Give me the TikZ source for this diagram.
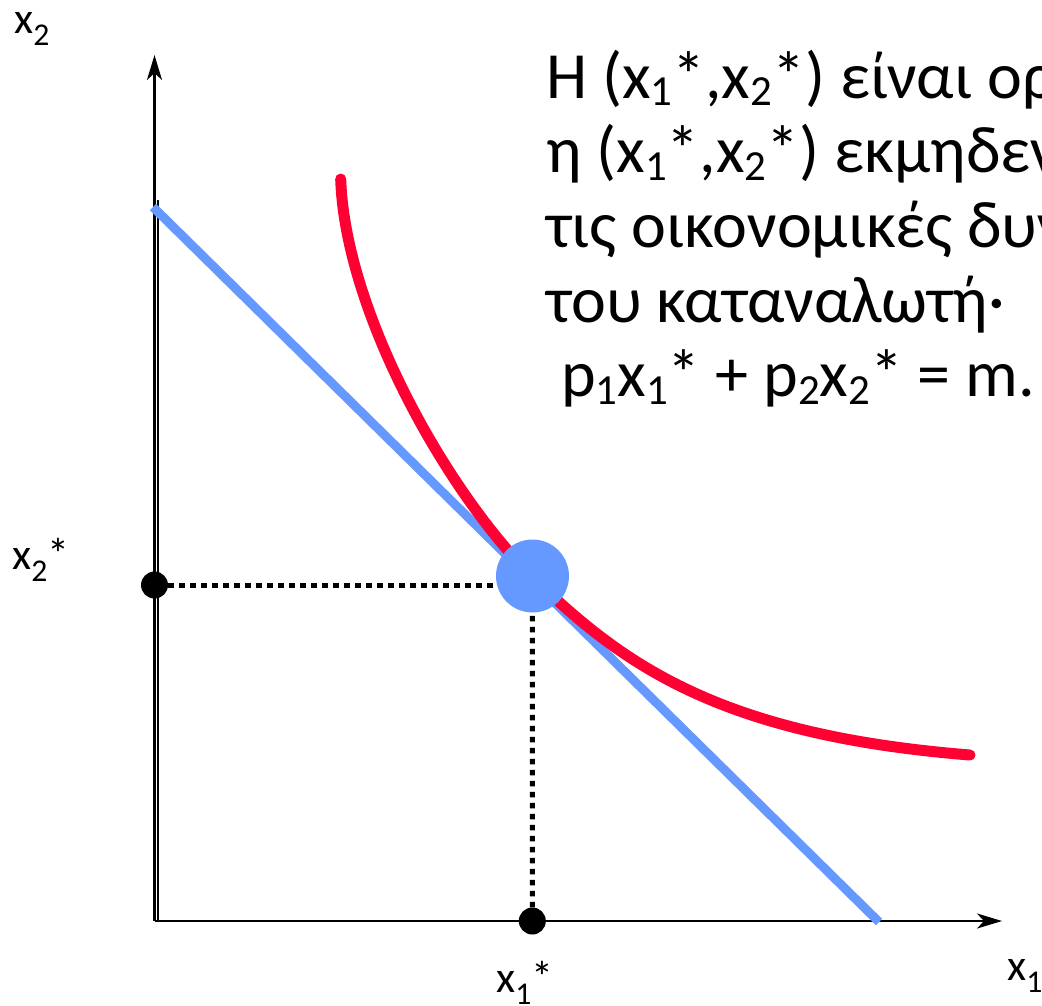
\documentclass[tikz,border=0pt]{standalone}
\usepackage{fontspec}
\setmainfont{Carlito}
\usepackage{graphicx}
\usetikzlibrary{arrows.meta, positioning}
\definecolor{budgetblue}{HTML}{6699FF}
\definecolor{curvered}{HTML}{FF0033}
\newcommand{\lo}[1]{\raisebox{-0.12em}{\scalebox{0.65}{#1}}}
\newcommand{\lbsub}[1]{\raisebox{-0.28em}{\scalebox{0.72}{#1}}}
\tikzstyle{axis} = [line width=2.4pt, -{Stealth[length=25pt, width=15pt, inset=7pt]}]
\tikzstyle{budget} = [line width=9pt, budgetblue]
\tikzstyle{indiff} = [line width=11pt, curvered, line cap=round]
\tikzstyle{guide} = [line width=5pt, dash pattern=on 5.5pt off 5.5pt]
\tikzstyle{dot} = [circle, fill=black, inner sep=0pt, minimum size=27pt]
\tikzstyle{bundle} = [circle, fill=budgetblue, inner sep=0pt, minimum size=73pt]
\tikzstyle{txt} = [anchor=base west, inner sep=0pt, font=\fontsize{66}{80}\selectfont]
\tikzstyle{lbl} = [anchor=base west, inner sep=0pt, font=\fontsize{44}{52}\selectfont]

\begin{document}
\begin{tikzpicture}[x=1pt, y=-1pt]
    \useasboundingbox (0,0) rectangle (1042,1005);
    \clip (0,0) rectangle (1042,1005);

    % Axes
    \coordinate (O) at (154.5,921);
    \coordinate (ytop) at (154.5,55);
    \coordinate (xend) at (1002,921);
    \coordinate (yin) at (158,200);
    \coordinate (Oin) at (158,921);
    \draw [axis] (O) -- (ytop);
    \draw [axis] (O) -- (xend);
    \draw [line width=2.4pt] (yin) -- (Oin);

    % Budget line
    \coordinate (bl) at (153,207);
    \coordinate (br) at (879,922);
    \draw [budget] (bl) -- (br);

    % Indifference curve
    \coordinate (ctop) at (340.7,179);
    \coordinate (opt) at (532.5,577);
    \coordinate (cend) at (970,755);
    \draw [indiff] (ctop) .. controls (345,310) and (445,490) .. (opt)
        .. controls (623,665) and (720,735) .. (cend);

    % Optimal bundle
    \node (dx2) [dot] at (154.5,585) {};
    \node (dx1) [dot] at (532.3,921) {};
    \draw [guide] (dx2) -- (dx2 -| opt);
    \draw [guide] (dx1) -- (opt);
    \node (bundle) [bundle] at (532.5,576) {};

    % Labels
    \node (lx2) [lbl] at (14,33) {x\lbsub{2}};
    \node (lx2s) [lbl] at (12,569) {x\lbsub{2}*};
    \node (lx1s) [lbl] at (496,992) {x\lbsub{1}*};
    \node (lx1) [lbl] at (1007,980) {x\lbsub{1}};

    % Condition text
    \node (l1) [txt] at (546,98) {Η (x\lo{1}*,x\lo{2}*) είναι ορ};
    \node (l2) [txt] at (546,172.7) {η (x\lo{1}*,x\lo{2}*) εκμηδεν};
    \node (l3) [txt] at (546,247.4) {τις οικονομικές δυν};
    \node (l4) [txt] at (546,322) {του καταναλωτή·};
    \node (l5) [txt] at (546,396.7) {\ p\lo{1}x\lo{1}* + p\lo{2}x\lo{2}* = m.};
\end{tikzpicture}
\end{document}
